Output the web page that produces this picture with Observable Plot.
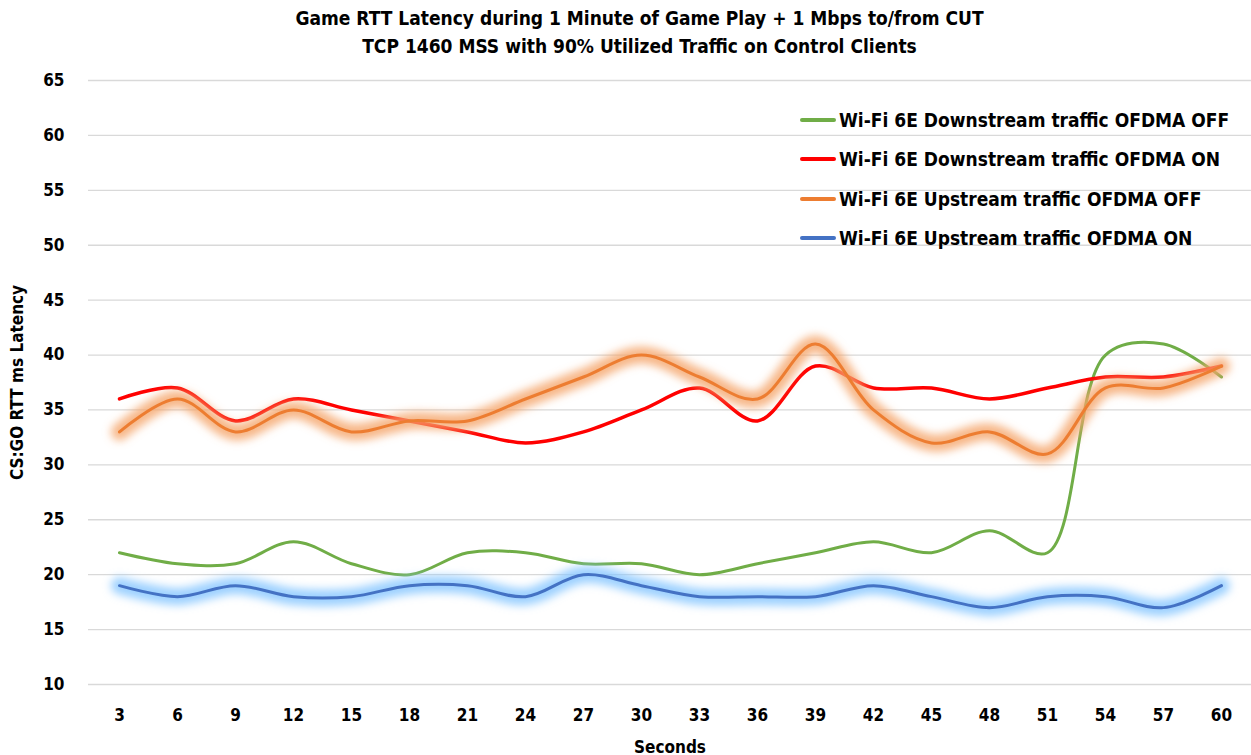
<!DOCTYPE html>
<html>
<head>
<meta charset="utf-8">
<script src="https://cdn.jsdelivr.net/npm/d3@7"></script>
<script src="https://cdn.jsdelivr.net/npm/@observablehq/plot@0.6"></script>
<style>
  html, body { margin: 0; padding: 0; background: #fff; }
  body { width: 1251px; height: 755px; overflow: hidden; position: relative;
         font-family: "Liberation Sans Narrow", "DejaVu Sans Condensed", "Open Sans", sans-serif; font-weight: bold; color: #000; }
  #title { position: absolute; left: 28px; top: 4px; width: 1223px; text-align: center; font-size: 19px; line-height: 28px; }
  #chart { position: absolute; left: 0; top: 65px; }
  #legend { position: absolute; left: 800px; top: 100px; font-size: 19px; }
  .row { display: flex; align-items: center; height: 39.5px; }
  .sw { width: 36px; height: 4px; margin-right: 3px; border-radius: 2px; }
</style>
</head>
<body>
<div id="title"></div>
<div id="chart"></div>
<div id="legend"></div>
<script>
const titleLines = ["Game RTT Latency during 1 Minute of Game Play + 1 Mbps to/from CUT",
                    "TCP 1460 MSS with 90% Utilized Traffic on Control Clients"];
const xLabel = "Seconds";
const yLabel = "CS:GO RTT ms Latency";
const seconds = [3, 6, 9, 12, 15, 18, 21, 24, 27, 30, 33, 36, 39, 42, 45, 48, 51, 54, 57, 60];
const yTicks = [10, 15, 20, 25, 30, 35, 40, 45, 50, 55, 60, 65];

const downstreamOff = [22, 21, 21, 23, 21, 20, 22, 22, 21, 21, 20, 21, 22, 23, 22, 24, 22, 40, 41, 38];
const downstreamOn  = [36, 37, 34, 36, 35, 34, 33, 32, 33, 35, 37, 34, 39, 37, 37, 36, 37, 38, 38, 39];
const upstreamOff   = [33, 36, 33, 35, 33, 34, 34, 36, 38, 40, 38, 36, 41, 35, 32, 33, 31, 37, 37, 39];
const upstreamOn    = [19, 18, 19, 18, 18, 19, 19, 18, 20, 19, 18, 18, 18, 19, 18, 17, 18, 18, 17, 19];

const seriesNames = ["Wi-Fi 6E Downstream traffic OFDMA OFF", "Wi-Fi 6E Downstream traffic OFDMA ON",
                     "Wi-Fi 6E Upstream traffic OFDMA OFF", "Wi-Fi 6E Upstream traffic OFDMA ON"];
const seriesColors = ["#70AD47", "#FF0000", "#ED7D31", "#4472C4"];
const glowColors = [null, null, "#F5A56B", "#86C5FF"];
const widths = [3, 3.5, 3, 3];
const seriesValues = [downstreamOff, downstreamOn, upstreamOff, upstreamOn];

document.getElementById("title").innerHTML = titleLines.map(t => `<div>${t}</div>`).join("");

const tables = seriesValues.map(vals => seconds.map((t, i) => ({t, v: vals[i]})));

const marks = [
  Plot.gridY(yTicks, {stroke: "#D9D9D9", strokeOpacity: 1, strokeWidth: 1.3}),
  Plot.axisY(yTicks, {tickSize: 0, tickPadding: 24, fontSize: 17, fontWeight: "bold",
                      label: yLabel, labelAnchor: "center", labelOffset: 78, labelArrow: "none"}),
  Plot.axisX(seconds, {tickSize: 0, tickPadding: 24, fontSize: 17, fontWeight: "bold",
                       label: xLabel, labelAnchor: "center", labelOffset: 68, labelArrow: "none"})
];
seriesValues.forEach((_, k) => {
  if (glowColors[k]) {
    marks.push(Plot.line(tables[k], {x: "t", y: "v", stroke: glowColors[k], strokeWidth: 17, strokeOpacity: 0.8,
                                      curve: "catmull-rom"}));
  }
  marks.push(Plot.line(tables[k], {x: "t", y: "v", stroke: seriesColors[k], strokeWidth: widths[k], curve: "catmull-rom"}));
});

const chart = Plot.plot({
  width: 1251, height: 690,
  marginTop: 15, marginBottom: 71, marginLeft: 88, marginRight: 0,
  x: {type: "point", domain: seconds, padding: 0.5},
  y: {domain: [10, 65]},
  style: {fontFamily: '"Liberation Sans Narrow", "DejaVu Sans Condensed", "Open Sans", sans-serif', fontSize: "17px", fontWeight: "bold", color: "#000", background: "#fff"},
  marks
});
const svg = d3.select(chart);
const defs = svg.insert("defs", ":first-child");
defs.append("filter").attr("id", "softglow")
  .attr("filterUnits", "userSpaceOnUse").attr("x", 0).attr("y", 0).attr("width", 1251).attr("height", 690)
  .append("feGaussianBlur").attr("stdDeviation", 4);
svg.selectAll('[stroke-width="17"]').attr("filter", "url(#softglow)");
document.getElementById("chart").appendChild(chart);

document.getElementById("legend").innerHTML = seriesNames.map((n, k) =>
  `<div class="row"><div class="sw" style="background:${seriesColors[k]}"></div><span>${n}</span></div>`).join("");
</script>
</body>
</html>
